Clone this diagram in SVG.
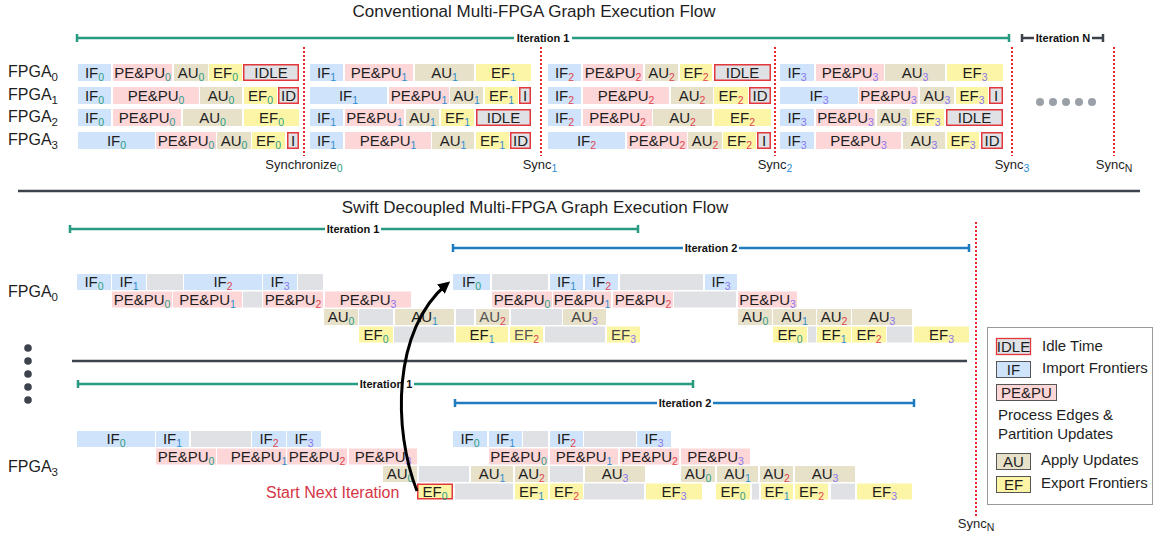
<svg xmlns="http://www.w3.org/2000/svg" width="1156" height="536" viewBox="0 0 1156 536">
<defs>
<style>
.if{fill:#cfe3fa}
.pe{fill:#fdd6d8}
.au{fill:#e7e1ca}
.ef{fill:#fdf5a6}
.gp{fill:#dfe1e5}
.idle{fill:#dfe1e5;stroke:#e2383c;stroke-width:1.5}
.hl{stroke:#e2383c;stroke-width:1.5}
.t{font-family:"Liberation Sans",Arial,sans-serif;font-size:15px;fill:#1e1e1e;text-anchor:middle}
.s0,.s1,.s2,.s3,.sn{font-size:10.5px}
.s0{fill:#2a9d84}.s1{fill:#2f8dd0}.s2{fill:#e0454f}.s3{fill:#8b78f0}.sn{fill:#1e1e1e}
.lab{font-family:"Liberation Sans",Arial,sans-serif;font-size:16px;fill:#1e1e1e}
.ttl{font-family:"Liberation Sans",Arial,sans-serif;font-size:17px;fill:#1e1e1e;text-anchor:middle}
.sy{font-family:"Liberation Sans",Arial,sans-serif;font-size:13px;fill:#1e1e1e;text-anchor:middle}
.it{font-family:"Liberation Sans",Arial,sans-serif;font-size:11px;font-weight:bold;fill:#111;text-anchor:middle}
.span-g{stroke:#279a80;stroke-width:2.5;fill:none}
.span-b{stroke:#1f7cc0;stroke-width:2.5;fill:none}
.span-d{stroke:#3d434c;stroke-width:2.5;fill:none}
.sync{stroke:#e8282f;stroke-width:2;stroke-dasharray:2 2;fill:none}
.div{stroke:#3d434c;stroke-width:2.5}
.lg{stroke:#555;stroke-width:1}
.ltx{font-family:"Liberation Sans",Arial,sans-serif;font-size:15px;fill:#1e1e1e}
</style>
<marker id="ah" markerUnits="userSpaceOnUse" markerWidth="14" markerHeight="14" refX="8" refY="6" orient="auto">
<path d="M0,0 L12,6 L0,12 z" fill="#000"/>
</marker>
</defs>
<rect width="1156" height="536" fill="#fff"/>

<!-- titles -->
<text class="ttl" x="534" y="17">Conventional Multi-FPGA Graph Execution Flow</text>
<text class="ttl" x="535" y="213">Swift Decoupled Multi-FPGA Graph Execution Flow</text>

<!-- dividers -->
<line class="div" x1="18" y1="191" x2="1140" y2="191"/>
<line class="div" x1="72" y1="361" x2="967" y2="361"/>

<!-- FPGA labels -->
<text class="lab" x="8" y="77">FPGA<tspan dy="4" style="font-size:11.5px">0</tspan></text>
<text class="lab" x="8" y="100">FPGA<tspan dy="4" style="font-size:11.5px">1</tspan></text>
<text class="lab" x="8" y="122">FPGA<tspan dy="4" style="font-size:11.5px">2</tspan></text>
<text class="lab" x="8" y="145">FPGA<tspan dy="4" style="font-size:11.5px">3</tspan></text>
<text class="lab" x="8" y="297">FPGA<tspan dy="4" style="font-size:11.5px">0</tspan></text>
<text class="lab" x="8" y="472">FPGA<tspan dy="4" style="font-size:11.5px">3</tspan></text>

<!-- vertical ellipsis between FPGA0 and FPGA3 -->
<g fill="#3d434c">
<circle cx="28" cy="348" r="3.8"/><circle cx="28" cy="361" r="3.8"/><circle cx="28" cy="374" r="3.8"/><circle cx="28" cy="387" r="3.8"/><circle cx="28" cy="400" r="3.8"/>
</g>
<!-- horizontal ellipsis for remaining iterations -->
<g fill="#9aa0a8">
<circle cx="1040" cy="102" r="4"/><circle cx="1053" cy="102" r="4"/><circle cx="1066" cy="102" r="4"/><circle cx="1079" cy="102" r="4"/><circle cx="1092" cy="102" r="4"/>
</g>

<!-- iteration spans -->
<g id="spans">
<path class="span-g" d="M77 38 H1009 M77 34 V42 M1009 34 V42"/>
<rect x="514" y="31" width="58" height="13" fill="#fff"/>
<text class="it" x="543" y="42">Iteration 1</text>
<path class="span-d" d="M1022 38 H1103 M1022 34 V42 M1103 34 V42"/>
<rect x="1034" y="31" width="58" height="13" fill="#fff"/>
<text class="it" x="1063" y="42">Iteration N</text>

<path class="span-g" d="M70 229 H638 M70 225 V233 M638 225 V233"/>
<rect x="325" y="222" width="56" height="13" fill="#fff"/>
<text class="it" x="353" y="233">Iteration 1</text>
<path class="span-b" d="M453 248 H969 M453 244 V252 M969 244 V252"/>
<rect x="683" y="241" width="56" height="13" fill="#fff"/>
<text class="it" x="711" y="252">Iteration 2</text>

<path class="span-g" d="M78 384 H693 M78 380 V388 M693 380 V388"/>
<rect x="358" y="377" width="56" height="13" fill="#fff"/>
<text class="it" x="386" y="388">Iteration 1</text>
<path class="span-b" d="M455 403 H914 M455 399 V407 M914 399 V407"/>
<rect x="657" y="396" width="56" height="13" fill="#fff"/>
<text class="it" x="685" y="407">Iteration 2</text>
</g>

<!-- synchronization barriers -->
<g id="syncs">
<line class="sync" x1="304" y1="47" x2="304" y2="156"/>
<line class="sync" x1="541" y1="47" x2="541" y2="156"/>
<line class="sync" x1="775" y1="47" x2="775" y2="156"/>
<line class="sync" x1="1012" y1="47" x2="1012" y2="156"/>
<line class="sync" x1="1114" y1="47" x2="1114" y2="156"/>
<line class="sync" x1="976" y1="222" x2="976" y2="516"/>
<text class="sy" x="304" y="169">Synchronize<tspan class="s0" dy="3">0</tspan></text>
<text class="sy" x="540" y="169">Sync<tspan class="s1" dy="3">1</tspan></text>
<text class="sy" x="775" y="169">Sync<tspan class="s1" dy="3">2</tspan></text>
<text class="sy" x="1012" y="169">Sync<tspan class="s1" dy="3">3</tspan></text>
<text class="sy" x="1114" y="169">Sync<tspan class="sn" dy="3">N</tspan></text>
<text class="sy" x="976" y="528">Sync<tspan class="sn" dy="3">N</tspan></text>
</g>

<!-- conventional flow: FPGA0 -->
<g id="conv-fpga0">
<g id="c0-if0"><rect class="if" x="78" y="64" width="33" height="17"/><text class="t" x="94.5" y="77.5">IF<tspan class="s0" dy="3">0</tspan></text></g>
<g id="c0-pe0"><rect class="pe" x="113" y="64" width="59" height="17"/><text class="t" x="142.5" y="77.5">PE&amp;PU<tspan class="s0" dy="3">0</tspan></text></g>
<g id="c0-au0"><rect class="au" x="174" y="64" width="34" height="17"/><text class="t" x="191" y="77.5">AU<tspan class="s0" dy="3">0</tspan></text></g>
<g id="c0-ef0"><rect class="ef" x="209" y="64" width="33" height="17"/><text class="t" x="225.5" y="77.5">EF<tspan class="s0" dy="3">0</tspan></text></g>
<g id="c0-id0"><rect class="idle" x="243.75" y="64.75" width="54.5" height="15.5"/><text class="t" x="271" y="77.5">IDLE</text></g>
<g id="c0-if1"><rect class="if" x="310" y="64" width="33" height="17"/><text class="t" x="326.5" y="77.5">IF<tspan class="s1" dy="3">1</tspan></text></g>
<g id="c0-pe1"><rect class="pe" x="345" y="64" width="68" height="17"/><text class="t" x="379" y="77.5">PE&amp;PU<tspan class="s1" dy="3">1</tspan></text></g>
<g id="c0-au1"><rect class="au" x="415" y="64" width="59" height="17"/><text class="t" x="444.5" y="77.5">AU<tspan class="s1" dy="3">1</tspan></text></g>
<g id="c0-ef1"><rect class="ef" x="476" y="64" width="55" height="17"/><text class="t" x="503.5" y="77.5">EF<tspan class="s1" dy="3">1</tspan></text></g>
<g id="c0-if2"><rect class="if" x="548" y="64" width="33" height="17"/><text class="t" x="564.5" y="77.5">IF<tspan class="s2" dy="3">2</tspan></text></g>
<g id="c0-pe2"><rect class="pe" x="583" y="64" width="60" height="17"/><text class="t" x="613" y="77.5">PE&amp;PU<tspan class="s2" dy="3">2</tspan></text></g>
<g id="c0-au2"><rect class="au" x="645" y="64" width="33" height="17"/><text class="t" x="661.5" y="77.5">AU<tspan class="s2" dy="3">2</tspan></text></g>
<g id="c0-ef2"><rect class="ef" x="680" y="64" width="32" height="17"/><text class="t" x="696" y="77.5">EF<tspan class="s2" dy="3">2</tspan></text></g>
<g id="c0-id2"><rect class="idle" x="714.75" y="64.75" width="55.5" height="15.5"/><text class="t" x="742.5" y="77.5">IDLE</text></g>
<g id="c0-if3"><rect class="if" x="780" y="64" width="34" height="17"/><text class="t" x="797" y="77.5">IF<tspan class="s3" dy="3">3</tspan></text></g>
<g id="c0-pe3"><rect class="pe" x="816" y="64" width="68" height="17"/><text class="t" x="850" y="77.5">PE&amp;PU<tspan class="s3" dy="3">3</tspan></text></g>
<g id="c0-au3"><rect class="au" x="885" y="64" width="60" height="17"/><text class="t" x="915" y="77.5">AU<tspan class="s3" dy="3">3</tspan></text></g>
<g id="c0-ef3"><rect class="ef" x="947" y="64" width="56" height="17"/><text class="t" x="975" y="77.5">EF<tspan class="s3" dy="3">3</tspan></text></g>
</g>

<!-- conventional flow: FPGA1 -->
<g id="conv-fpga1">
<g id="c1-if0"><rect class="if" x="78" y="87" width="33" height="17"/><text class="t" x="94.5" y="100.5">IF<tspan class="s0" dy="3">0</tspan></text></g>
<g id="c1-pe0"><rect class="pe" x="113" y="87" width="86" height="17"/><text class="t" x="156" y="100.5">PE&amp;PU<tspan class="s0" dy="3">0</tspan></text></g>
<g id="c1-au0"><rect class="au" x="200" y="87" width="42" height="17"/><text class="t" x="221" y="100.5">AU<tspan class="s0" dy="3">0</tspan></text></g>
<g id="c1-ef0"><rect class="ef" x="244" y="87" width="33" height="17"/><text class="t" x="260.5" y="100.5">EF<tspan class="s0" dy="3">0</tspan></text></g>
<g id="c1-id0"><rect class="idle" x="278.75" y="87.75" width="19.5" height="15.5"/><text class="t" x="288.5" y="100.5">ID</text></g>
<g id="c1-if1"><rect class="if" x="310" y="87" width="77" height="17"/><text class="t" x="348.5" y="100.5">IF<tspan class="s1" dy="3">1</tspan></text></g>
<g id="c1-pe1"><rect class="pe" x="389" y="87" width="60" height="17"/><text class="t" x="419" y="100.5">PE&amp;PU<tspan class="s1" dy="3">1</tspan></text></g>
<g id="c1-au1"><rect class="au" x="450" y="87" width="33" height="17"/><text class="t" x="466.5" y="100.5">AU<tspan class="s1" dy="3">1</tspan></text></g>
<g id="c1-ef1"><rect class="ef" x="485" y="87" width="33" height="17"/><text class="t" x="501.5" y="100.5">EF<tspan class="s1" dy="3">1</tspan></text></g>
<g id="c1-id1"><rect class="idle" x="519.75" y="87.75" width="10.5" height="15.5"/><text class="t" x="525" y="100.5">I</text></g>
<g id="c1-if2"><rect class="if" x="548" y="87" width="33" height="17"/><text class="t" x="564.5" y="100.5">IF<tspan class="s2" dy="3">2</tspan></text></g>
<g id="c1-pe2"><rect class="pe" x="583" y="87" width="86" height="17"/><text class="t" x="626" y="100.5">PE&amp;PU<tspan class="s2" dy="3">2</tspan></text></g>
<g id="c1-au2"><rect class="au" x="671" y="87" width="42" height="17"/><text class="t" x="692" y="100.5">AU<tspan class="s2" dy="3">2</tspan></text></g>
<g id="c1-ef2"><rect class="ef" x="714" y="87" width="34" height="17"/><text class="t" x="731" y="100.5">EF<tspan class="s2" dy="3">2</tspan></text></g>
<g id="c1-id2"><rect class="idle" x="749.75" y="87.75" width="20.5" height="15.5"/><text class="t" x="760" y="100.5">ID</text></g>
<g id="c1-if3"><rect class="if" x="780" y="87" width="78" height="17"/><text class="t" x="819" y="100.5">IF<tspan class="s3" dy="3">3</tspan></text></g>
<g id="c1-pe3"><rect class="pe" x="859" y="87" width="59" height="17"/><text class="t" x="888.5" y="100.5">PE&amp;PU<tspan class="s3" dy="3">3</tspan></text></g>
<g id="c1-au3"><rect class="au" x="920" y="87" width="34" height="17"/><text class="t" x="937" y="100.5">AU<tspan class="s3" dy="3">3</tspan></text></g>
<g id="c1-ef3"><rect class="ef" x="956" y="87" width="32" height="17"/><text class="t" x="972" y="100.5">EF<tspan class="s3" dy="3">3</tspan></text></g>
<g id="c1-id3"><rect class="idle" x="989.75" y="87.75" width="12.5" height="15.5"/><text class="t" x="996" y="100.5">I</text></g>
</g>

<!-- conventional flow: FPGA2 -->
<g id="conv-fpga2">
<g id="c2-if0"><rect class="if" x="78" y="109" width="33" height="17"/><text class="t" x="94.5" y="122.5">IF<tspan class="s0" dy="3">0</tspan></text></g>
<g id="c2-pe0"><rect class="pe" x="113" y="109" width="68" height="17"/><text class="t" x="147" y="122.5">PE&amp;PU<tspan class="s0" dy="3">0</tspan></text></g>
<g id="c2-au0"><rect class="au" x="183" y="109" width="59" height="17"/><text class="t" x="212.5" y="122.5">AU<tspan class="s0" dy="3">0</tspan></text></g>
<g id="c2-ef0"><rect class="ef" x="244" y="109" width="55" height="17"/><text class="t" x="271.5" y="122.5">EF<tspan class="s0" dy="3">0</tspan></text></g>
<g id="c2-if1"><rect class="if" x="310" y="109" width="33" height="17"/><text class="t" x="326.5" y="122.5">IF<tspan class="s1" dy="3">1</tspan></text></g>
<g id="c2-pe1"><rect class="pe" x="345" y="109" width="59" height="17"/><text class="t" x="374.5" y="122.5">PE&amp;PU<tspan class="s1" dy="3">1</tspan></text></g>
<g id="c2-au1"><rect class="au" x="406" y="109" width="33" height="17"/><text class="t" x="422.5" y="122.5">AU<tspan class="s1" dy="3">1</tspan></text></g>
<g id="c2-ef1"><rect class="ef" x="441" y="109" width="33" height="17"/><text class="t" x="457.5" y="122.5">EF<tspan class="s1" dy="3">1</tspan></text></g>
<g id="c2-id1"><rect class="idle" x="476.75" y="109.75" width="53.5" height="15.5"/><text class="t" x="503.5" y="122.5">IDLE</text></g>
<g id="c2-if2"><rect class="if" x="548" y="109" width="33" height="17"/><text class="t" x="564.5" y="122.5">IF<tspan class="s2" dy="3">2</tspan></text></g>
<g id="c2-pe2"><rect class="pe" x="583" y="109" width="69" height="17"/><text class="t" x="617.5" y="122.5">PE&amp;PU<tspan class="s2" dy="3">2</tspan></text></g>
<g id="c2-au2"><rect class="au" x="653" y="109" width="59" height="17"/><text class="t" x="682.5" y="122.5">AU<tspan class="s2" dy="3">2</tspan></text></g>
<g id="c2-ef2"><rect class="ef" x="714" y="109" width="57" height="17"/><text class="t" x="742.5" y="122.5">EF<tspan class="s2" dy="3">2</tspan></text></g>
<g id="c2-if3"><rect class="if" x="780" y="109" width="34" height="17"/><text class="t" x="797" y="122.5">IF<tspan class="s3" dy="3">3</tspan></text></g>
<g id="c2-pe3"><rect class="pe" x="816" y="109" width="59" height="17"/><text class="t" x="845.5" y="122.5">PE&amp;PU<tspan class="s3" dy="3">3</tspan></text></g>
<g id="c2-au3"><rect class="au" x="877" y="109" width="33" height="17"/><text class="t" x="893.5" y="122.5">AU<tspan class="s3" dy="3">3</tspan></text></g>
<g id="c2-ef3"><rect class="ef" x="912" y="109" width="32" height="17"/><text class="t" x="928" y="122.5">EF<tspan class="s3" dy="3">3</tspan></text></g>
<g id="c2-id3"><rect class="idle" x="946.75" y="109.75" width="55.5" height="15.5"/><text class="t" x="974.5" y="122.5">IDLE</text></g>
</g>

<!-- conventional flow: FPGA3 -->
<g id="conv-fpga3">
<g id="c3-if0"><rect class="if" x="78" y="132" width="77" height="17"/><text class="t" x="116.5" y="145.5">IF<tspan class="s0" dy="3">0</tspan></text></g>
<g id="c3-pe0"><rect class="pe" x="156" y="132" width="60" height="17"/><text class="t" x="186" y="145.5">PE&amp;PU<tspan class="s0" dy="3">0</tspan></text></g>
<g id="c3-au0"><rect class="au" x="217" y="132" width="34" height="17"/><text class="t" x="234" y="145.5">AU<tspan class="s0" dy="3">0</tspan></text></g>
<g id="c3-ef0"><rect class="ef" x="252" y="132" width="33" height="17"/><text class="t" x="268.5" y="145.5">EF<tspan class="s0" dy="3">0</tspan></text></g>
<g id="c3-id0"><rect class="idle" x="287.75" y="132.75" width="10.5" height="15.5"/><text class="t" x="293" y="145.5">I</text></g>
<g id="c3-if1"><rect class="if" x="310" y="132" width="33" height="17"/><text class="t" x="326.5" y="145.5">IF<tspan class="s1" dy="3">1</tspan></text></g>
<g id="c3-pe1"><rect class="pe" x="345" y="132" width="86" height="17"/><text class="t" x="388" y="145.5">PE&amp;PU<tspan class="s1" dy="3">1</tspan></text></g>
<g id="c3-au1"><rect class="au" x="432" y="132" width="42" height="17"/><text class="t" x="453" y="145.5">AU<tspan class="s1" dy="3">1</tspan></text></g>
<g id="c3-ef1"><rect class="ef" x="476" y="132" width="33" height="17"/><text class="t" x="492.5" y="145.5">EF<tspan class="s1" dy="3">1</tspan></text></g>
<g id="c3-id1"><rect class="idle" x="510.75" y="132.75" width="19.5" height="15.5"/><text class="t" x="520.5" y="145.5">ID</text></g>
<g id="c3-if2"><rect class="if" x="548" y="132" width="77" height="17"/><text class="t" x="586.5" y="145.5">IF<tspan class="s2" dy="3">2</tspan></text></g>
<g id="c3-pe2"><rect class="pe" x="627" y="132" width="60" height="17"/><text class="t" x="657" y="145.5">PE&amp;PU<tspan class="s2" dy="3">2</tspan></text></g>
<g id="c3-au2"><rect class="au" x="688" y="132" width="34" height="17"/><text class="t" x="705" y="145.5">AU<tspan class="s2" dy="3">2</tspan></text></g>
<g id="c3-ef2"><rect class="ef" x="723" y="132" width="33" height="17"/><text class="t" x="739.5" y="145.5">EF<tspan class="s2" dy="3">2</tspan></text></g>
<g id="c3-id2"><rect class="idle" x="757.75" y="132.75" width="12.5" height="15.5"/><text class="t" x="764" y="145.5">I</text></g>
<g id="c3-if3"><rect class="if" x="780" y="132" width="34" height="17"/><text class="t" x="797" y="145.5">IF<tspan class="s3" dy="3">3</tspan></text></g>
<g id="c3-pe3"><rect class="pe" x="816" y="132" width="85" height="17"/><text class="t" x="858.5" y="145.5">PE&amp;PU<tspan class="s3" dy="3">3</tspan></text></g>
<g id="c3-au3"><rect class="au" x="903" y="132" width="42" height="17"/><text class="t" x="924" y="145.5">AU<tspan class="s3" dy="3">3</tspan></text></g>
<g id="c3-ef3"><rect class="ef" x="947" y="132" width="32" height="17"/><text class="t" x="963" y="145.5">EF<tspan class="s3" dy="3">3</tspan></text></g>
<g id="c3-id3"><rect class="idle" x="981.75" y="132.75" width="20.5" height="15.5"/><text class="t" x="992" y="145.5">ID</text></g>
</g>

<!-- decoupled flow: FPGA0 -->
<g id="swift-fpga0">
<g id="s0-if0a"><rect class="if" x="77" y="274" width="34" height="16"/><text class="t" x="94" y="287">IF<tspan class="s0" dy="3">0</tspan></text></g>
<g id="s0-if1a"><rect class="if" x="112" y="274" width="34" height="16"/><text class="t" x="129" y="287">IF<tspan class="s1" dy="3">1</tspan></text></g>
<rect class="gp" x="147" y="274" width="36" height="16"/>
<g id="s0-if2a"><rect class="if" x="184" y="274" width="78" height="16"/><text class="t" x="223" y="287">IF<tspan class="s2" dy="3">2</tspan></text></g>
<g id="s0-if3a"><rect class="if" x="263" y="274" width="34" height="16"/><text class="t" x="280" y="287">IF<tspan class="s3" dy="3">3</tspan></text></g>
<rect class="gp" x="298" y="274" width="25" height="16"/>
<g id="s0-if0b"><rect class="if" x="453" y="274" width="37" height="16"/><text class="t" x="471.5" y="287">IF<tspan class="s0" dy="3">0</tspan></text></g>
<rect class="gp" x="492" y="274" width="56" height="16"/>
<g id="s0-if1b"><rect class="if" x="550" y="274" width="33" height="16"/><text class="t" x="566.5" y="287">IF<tspan class="s1" dy="3">1</tspan></text></g>
<g id="s0-if2b"><rect class="if" x="585" y="274" width="33" height="16"/><text class="t" x="601.5" y="287">IF<tspan class="s2" dy="3">2</tspan></text></g>
<rect class="gp" x="620" y="274" width="83" height="16"/>
<g id="s0-if3b"><rect class="if" x="705" y="274" width="32" height="16"/><text class="t" x="721" y="287">IF<tspan class="s3" dy="3">3</tspan></text></g>

<g id="s0-pe0a"><rect class="pe" x="112" y="291.5" width="60" height="16"/><text class="t" x="142" y="304.5">PE&amp;PU<tspan class="s0" dy="3">0</tspan></text></g>
<g id="s0-pe1a"><rect class="pe" x="173" y="291.5" width="69" height="16"/><text class="t" x="207.5" y="304.5">PE&amp;PU<tspan class="s1" dy="3">1</tspan></text></g>
<rect class="gp" x="243" y="291.5" width="19" height="16"/>
<g id="s0-pe2a"><rect class="pe" x="263" y="291.5" width="60" height="16"/><text class="t" x="293" y="304.5">PE&amp;PU<tspan class="s2" dy="3">2</tspan></text></g>
<g id="s0-pe3a"><rect class="pe" x="325" y="291.5" width="86" height="16"/><text class="t" x="368" y="304.5">PE&amp;PU<tspan class="s3" dy="3">3</tspan></text></g>
<g id="s0-pe0b"><rect class="pe" x="492" y="291.5" width="60" height="16"/><text class="t" x="522" y="304.5">PE&amp;PU<tspan class="s0" dy="3">0</tspan></text></g>
<g id="s0-pe1b"><rect class="pe" x="553" y="291.5" width="58" height="16"/><text class="t" x="582" y="304.5">PE&amp;PU<tspan class="s1" dy="3">1</tspan></text></g>
<g id="s0-pe2b"><rect class="pe" x="613" y="291.5" width="60" height="16"/><text class="t" x="643" y="304.5">PE&amp;PU<tspan class="s2" dy="3">2</tspan></text></g>
<rect class="gp" x="674" y="291.5" width="62" height="16"/>
<g id="s0-pe3b"><rect class="pe" x="738" y="291.5" width="59" height="16"/><text class="t" x="767.5" y="304.5">PE&amp;PU<tspan class="s3" dy="3">3</tspan></text></g>

<g id="s0-au0a"><rect class="au" x="324" y="309" width="34" height="16"/><text class="t" x="341" y="322">AU<tspan class="s0" dy="3">0</tspan></text></g>
<rect class="gp" x="359" y="309" width="34" height="16"/>
<g id="s0-au1a"><rect class="au" x="395" y="309" width="59" height="16"/><text class="t" x="424.5" y="322">AU<tspan class="s1" dy="3">1</tspan></text></g>
<rect class="gp" x="456" y="309" width="18" height="16"/>
<g id="s0-au2a"><rect class="au" x="476" y="309" width="33" height="16"/><text class="t" x="492.5" y="322" style="fill:#555">AU<tspan class="s2" dy="3">2</tspan></text></g>
<rect class="gp" x="511" y="309" width="51" height="16"/>
<g id="s0-au3a"><rect class="au" x="563" y="309" width="43" height="16"/><text class="t" x="584.5" y="322" style="fill:#444">AU<tspan class="s3" dy="3">3</tspan></text></g>
<g id="s0-au0b"><rect class="au" x="738" y="309" width="34" height="16"/><text class="t" x="755" y="322">AU<tspan class="s0" dy="3">0</tspan></text></g>
<g id="s0-au1b"><rect class="au" x="773" y="309" width="43" height="16"/><text class="t" x="794.5" y="322">AU<tspan class="s1" dy="3">1</tspan></text></g>
<g id="s0-au2b"><rect class="au" x="817" y="309" width="34" height="16"/><text class="t" x="834" y="322">AU<tspan class="s2" dy="3">2</tspan></text></g>
<g id="s0-au3b"><rect class="au" x="852" y="309" width="60" height="16"/><text class="t" x="882" y="322">AU<tspan class="s3" dy="3">3</tspan></text></g>

<g id="s0-ef0a"><rect class="ef" x="359" y="326.5" width="34" height="16"/><text class="t" x="376" y="339.5">EF<tspan class="s0" dy="3">0</tspan></text></g>
<rect class="gp" x="394" y="326.5" width="60" height="16"/>
<g id="s0-ef1a"><rect class="ef" x="456" y="326.5" width="52" height="16"/><text class="t" x="482" y="339.5">EF<tspan class="s1" dy="3">1</tspan></text></g>
<g id="s0-ef2a"><rect class="ef" x="510" y="326.5" width="33" height="16"/><text class="t" x="526.5" y="339.5" style="fill:#555">EF<tspan class="s2" dy="3">2</tspan></text></g>
<rect class="gp" x="545" y="326.5" width="60" height="16"/>
<g id="s0-ef3a"><rect class="ef" x="607" y="326.5" width="33" height="16"/><text class="t" x="623.5" y="339.5" style="fill:#444">EF<tspan class="s3" dy="3">3</tspan></text></g>
<g id="s0-ef0b"><rect class="ef" x="773" y="326.5" width="34" height="16"/><text class="t" x="790" y="339.5">EF<tspan class="s0" dy="3">0</tspan></text></g>
<rect class="gp" x="808" y="326.5" width="8" height="16"/>
<g id="s0-ef1b"><rect class="ef" x="817" y="326.5" width="34" height="16"/><text class="t" x="834" y="339.5">EF<tspan class="s1" dy="3">1</tspan></text></g>
<g id="s0-ef2b"><rect class="ef" x="852" y="326.5" width="34" height="16"/><text class="t" x="869" y="339.5">EF<tspan class="s2" dy="3">2</tspan></text></g>
<rect class="gp" x="887" y="326.5" width="25" height="16"/>
<g id="s0-ef3b"><rect class="ef" x="914" y="326.5" width="55" height="16"/><text class="t" x="941.5" y="339.5">EF<tspan class="s3" dy="3">3</tspan></text></g>
</g>

<!-- decoupled flow: FPGA3 -->
<g id="swift-fpga3">
<g id="s3-if0a"><rect class="if" x="77" y="431" width="78" height="16"/><text class="t" x="116" y="444">IF<tspan class="s0" dy="3">0</tspan></text></g>
<g id="s3-if1a"><rect class="if" x="156" y="431" width="33" height="16"/><text class="t" x="172.5" y="444">IF<tspan class="s1" dy="3">1</tspan></text></g>
<rect class="gp" x="191" y="431" width="60" height="16"/>
<g id="s3-if2a"><rect class="if" x="252" y="431" width="34" height="16"/><text class="t" x="269" y="444">IF<tspan class="s2" dy="3">2</tspan></text></g>
<g id="s3-if3a"><rect class="if" x="287" y="431" width="34" height="16"/><text class="t" x="304" y="444">IF<tspan class="s3" dy="3">3</tspan></text></g>
<g id="s3-if0b"><rect class="if" x="453" y="431" width="34" height="16"/><text class="t" x="470" y="444">IF<tspan class="s0" dy="3">0</tspan></text></g>
<g id="s3-if1b"><rect class="if" x="489" y="431" width="33" height="16"/><text class="t" x="505.5" y="444">IF<tspan class="s1" dy="3">1</tspan></text></g>
<rect class="gp" x="523" y="431" width="25" height="16"/>
<g id="s3-if2b"><rect class="if" x="550" y="431" width="33" height="16"/><text class="t" x="566.5" y="444">IF<tspan class="s2" dy="3">2</tspan></text></g>
<rect class="gp" x="584" y="431" width="52" height="16"/>
<g id="s3-if3b"><rect class="if" x="637" y="431" width="34" height="16"/><text class="t" x="654" y="444">IF<tspan class="s3" dy="3">3</tspan></text></g>

<g id="s3-pe0a"><rect class="pe" x="156" y="448.5" width="60" height="16"/><text class="t" x="186" y="461.5">PE&amp;PU<tspan class="s0" dy="3">0</tspan></text></g>
<g id="s3-pe1a"><rect class="pe" x="217" y="448.5" width="69" height="16"/><text class="t" x="259" y="461.5">PE&amp;PU<tspan class="s1" dy="3">1</tspan></text></g>
<g id="s3-pe2a"><rect class="pe" x="287" y="448.5" width="60" height="16"/><text class="t" x="317" y="461.5">PE&amp;PU<tspan class="s2" dy="3">2</tspan></text></g>
<g id="s3-pe3a"><rect class="pe" x="349" y="448.5" width="68" height="16"/><text class="t" x="383" y="461.5">PE&amp;PU<tspan class="s3" dy="3">3</tspan></text></g>
<g id="s3-pe0b"><rect class="pe" x="489" y="448.5" width="59" height="16"/><text class="t" x="518.5" y="461.5">PE&amp;PU<tspan class="s0" dy="3">0</tspan></text></g>
<g id="s3-pe1b"><rect class="pe" x="550" y="448.5" width="68" height="16"/><text class="t" x="584" y="461.5">PE&amp;PU<tspan class="s1" dy="3">1</tspan></text></g>
<g id="s3-pe2b"><rect class="pe" x="620" y="448.5" width="59" height="16"/><text class="t" x="649.5" y="461.5">PE&amp;PU<tspan class="s2" dy="3">2</tspan></text></g>
<g id="s3-pe3b"><rect class="pe" x="681" y="448.5" width="69" height="16"/><text class="t" x="715.5" y="461.5">PE&amp;PU<tspan class="s3" dy="3">3</tspan></text></g>

<g id="s3-au0a"><rect class="au" x="383" y="466" width="34" height="16"/><text class="t" x="400" y="479">AU<tspan class="s0" dy="3">0</tspan></text></g>
<rect class="gp" x="419" y="466" width="50" height="16"/>
<g id="s3-au1a"><rect class="au" x="471" y="466" width="42" height="16"/><text class="t" x="492" y="479">AU<tspan class="s1" dy="3">1</tspan></text></g>
<g id="s3-au2a"><rect class="au" x="515" y="466" width="33" height="16"/><text class="t" x="531.5" y="479">AU<tspan class="s2" dy="3">2</tspan></text></g>
<rect class="gp" x="550" y="466" width="33" height="16"/>
<g id="s3-au3a"><rect class="au" x="585" y="466" width="60" height="16"/><text class="t" x="615" y="479">AU<tspan class="s3" dy="3">3</tspan></text></g>
<g id="s3-au0b"><rect class="au" x="681" y="466" width="34" height="16"/><text class="t" x="698" y="479">AU<tspan class="s0" dy="3">0</tspan></text></g>
<g id="s3-au1b"><rect class="au" x="717" y="466" width="41" height="16"/><text class="t" x="737.5" y="479">AU<tspan class="s1" dy="3">1</tspan></text></g>
<g id="s3-au2b"><rect class="au" x="760" y="466" width="33" height="16"/><text class="t" x="776.5" y="479">AU<tspan class="s2" dy="3">2</tspan></text></g>
<g id="s3-au3b"><rect class="au" x="795" y="466" width="60" height="16"/><text class="t" x="825" y="479">AU<tspan class="s3" dy="3">3</tspan></text></g>

<g id="s3-ef0a"><rect class="ef hl" x="417.75" y="484.25" width="34.5" height="14.5"/><text class="t" x="435" y="496.5">EF<tspan class="s0" dy="3">0</tspan></text></g>
<rect class="gp" x="455" y="483.5" width="58" height="16"/>
<g id="s3-ef1a"><rect class="ef" x="515" y="483.5" width="33" height="16"/><text class="t" x="531.5" y="496.5">EF<tspan class="s1" dy="3">1</tspan></text></g>
<g id="s3-ef2a"><rect class="ef" x="550" y="483.5" width="33" height="16"/><text class="t" x="566.5" y="496.5">EF<tspan class="s2" dy="3">2</tspan></text></g>
<rect class="gp" x="584" y="483.5" width="60" height="16"/>
<g id="s3-ef3a"><rect class="ef" x="646" y="483.5" width="56" height="16"/><text class="t" x="674" y="496.5">EF<tspan class="s3" dy="3">3</tspan></text></g>
<g id="s3-ef0b"><rect class="ef" x="716" y="483.5" width="34" height="16"/><text class="t" x="733" y="496.5">EF<tspan class="s0" dy="3">0</tspan></text></g>
<rect class="gp" x="752" y="483.5" width="7" height="16"/>
<g id="s3-ef1b"><rect class="ef" x="761" y="483.5" width="32" height="16"/><text class="t" x="777" y="496.5">EF<tspan class="s1" dy="3">1</tspan></text></g>
<g id="s3-ef2b"><rect class="ef" x="795" y="483.5" width="33" height="16"/><text class="t" x="811.5" y="496.5">EF<tspan class="s2" dy="3">2</tspan></text></g>
<rect class="gp" x="831" y="483.5" width="24" height="16"/>
<g id="s3-ef3b"><rect class="ef" x="857" y="483.5" width="55" height="16"/><text class="t" x="884.5" y="496.5">EF<tspan class="s3" dy="3">3</tspan></text></g>
</g>

<text x="266" y="498" style="font-family:'Liberation Sans',Arial,sans-serif;font-size:16px;fill:#d63545">Start Next Iteration</text>

<!-- connectors -->
<g id="connectors">
<path d="M417 491 C393 430 392 330 447 284" fill="none" stroke="#000" stroke-width="3" marker-end="url(#ah)"/>
</g>

<!-- legend -->
<g id="legend">
<rect x="987.5" y="327.5" width="165" height="177" fill="#fff" stroke="#9a9a9a" stroke-width="1"/>
<g id="lg-idle"><rect x="996.5" y="338.5" width="34" height="16" fill="#dfe1e5" stroke="#e2383c" stroke-width="1.3"/><text class="t" x="1013.5" y="351.5">IDLE</text><text class="ltx" x="1042" y="351">Idle Time</text></g>
<g id="lg-if"><rect class="if lg" x="996.5" y="361.5" width="34" height="16"/><text class="t" x="1013.5" y="374.5">IF</text><text class="ltx" x="1042" y="373">Import Frontiers</text></g>
<g id="lg-pe"><rect class="pe lg" x="996.5" y="384.5" width="60" height="16"/><text class="t" x="1026.5" y="397.5">PE&amp;PU</text><text class="ltx" x="998" y="420">Process Edges &amp;</text><text class="ltx" x="998" y="439">Partition Updates</text></g>
<g id="lg-au"><rect class="au lg" x="996.5" y="453.5" width="34" height="16"/><text class="t" x="1013.5" y="466.5">AU</text><text class="ltx" x="1041" y="465">Apply Updates</text></g>
<g id="lg-ef"><rect class="ef lg" x="996.5" y="476.5" width="34" height="16"/><text class="t" x="1013.5" y="489.5">EF</text><text class="ltx" x="1041" y="488">Export Frontiers</text></g>
</g>
</svg>
